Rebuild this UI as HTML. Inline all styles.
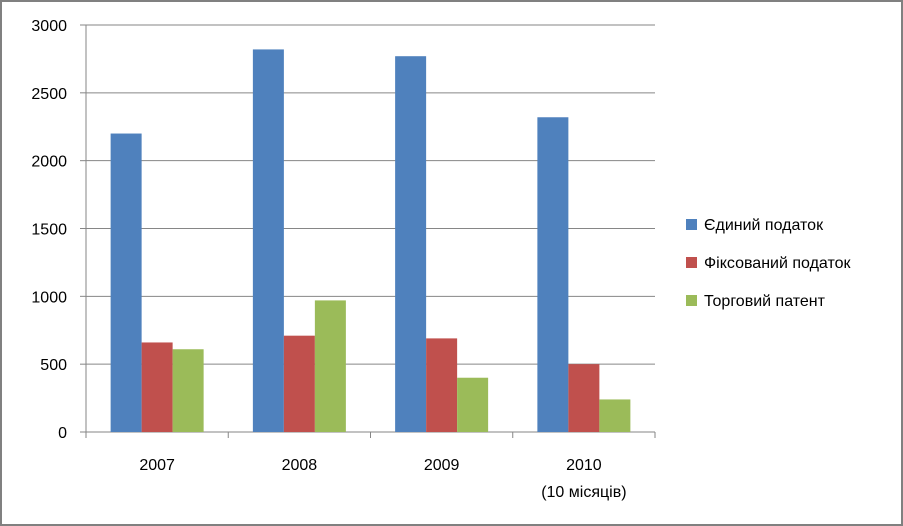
<!DOCTYPE html>
<html><head><meta charset="utf-8"><style>
html,body{margin:0;padding:0;background:#000;}
#wrap{position:absolute;left:0;top:0;width:899px;height:522px;background:#fff;border:2px solid #808080;}
svg{position:absolute;left:-2px;top:-2px;}
text{font-family:"Liberation Sans","DejaVu Sans",sans-serif;font-size:16px;fill:#000;}
</style></head><body>
<div id="wrap">
<svg id="chart" width="903" height="526"></svg>
</div>
<script>
const categories = ["2007","2008","2009","2010"];
const categorySub = ["","","","(10 місяців)"];
const seriesNames = ["Єдиний податок","Фіксований податок","Торговий патент"];
const seriesColors = ["#4f81bd","#c0504d","#9bbb59"];
const edinyi = [2200,2820,2770,2320];
const fiksovanyi = [660,710,690,500];
const torgovyi = [610,970,400,240];
const yTicks = [0,500,1000,1500,2000,2500,3000];

const series=[edinyi,fiksovanyi,torgovyi];
const svg=document.getElementById('chart');
const NS='http://www.w3.org/2000/svg';
const x0=86,x1=655,y0=432,yTop=25,yMax=3000;
const y=v=>y0-(v/yMax)*(y0-yTop);
const gw=(x1-x0)/categories.length, bw=31;
function mk(t,a){const e=document.createElementNS(NS,t);for(const k in a)e.setAttribute(k,a[k]);svg.appendChild(e);return e;}
yTicks.forEach(t=>{
  const g=mk('line',{x1:x0,x2:x1,y1:y(t),y2:y(t),stroke:t===0?'#868686':'#868686','stroke-width':1});
  
  
  const tk=mk('line',{x1:x0-6,x2:x0,y1:y(t),y2:y(t),stroke:'#868686'});
  
  
  const l=mk('text',{x:x0-19,y:y(t)+6,'text-anchor':'end'});l.textContent=t;
  
  
});
const ax=mk('line',{x1:x0,x2:x0,y1:yTop,y2:y0,stroke:'#868686'});


for(let i=0;i<=categories.length;i++){
  const tx=mk('line',{x1:x0+gw*i,x2:x0+gw*i,y1:y0,y2:y0+6,stroke:'#868686'});
  
  
}
categories.forEach((c,i)=>{
  const cx=x0+gw*i+gw/2;
  series.forEach((s,j)=>{
    const r=mk('rect',{x:cx-1.5*bw+j*bw,y:y(s[i]),width:bw,height:y0-y(s[i]),fill:seriesColors[j]});
    
    
  });
  const l=mk('text',{x:cx,y:470,'text-anchor':'middle'});l.textContent=c;
  
  
  if(categorySub[i]){const l2=mk('text',{x:cx,y:497,'text-anchor':'middle'});l2.textContent=categorySub[i];
  
  }
});
seriesNames.forEach((n,j)=>{
  const yy=225+j*38;
  const r=mk('rect',{x:686,y:yy-6,width:11,height:11,fill:seriesColors[j]});
  
  
  const t=mk('text',{x:704,y:yy+5});t.textContent=n;
  
  
});
</script>
</body></html>
